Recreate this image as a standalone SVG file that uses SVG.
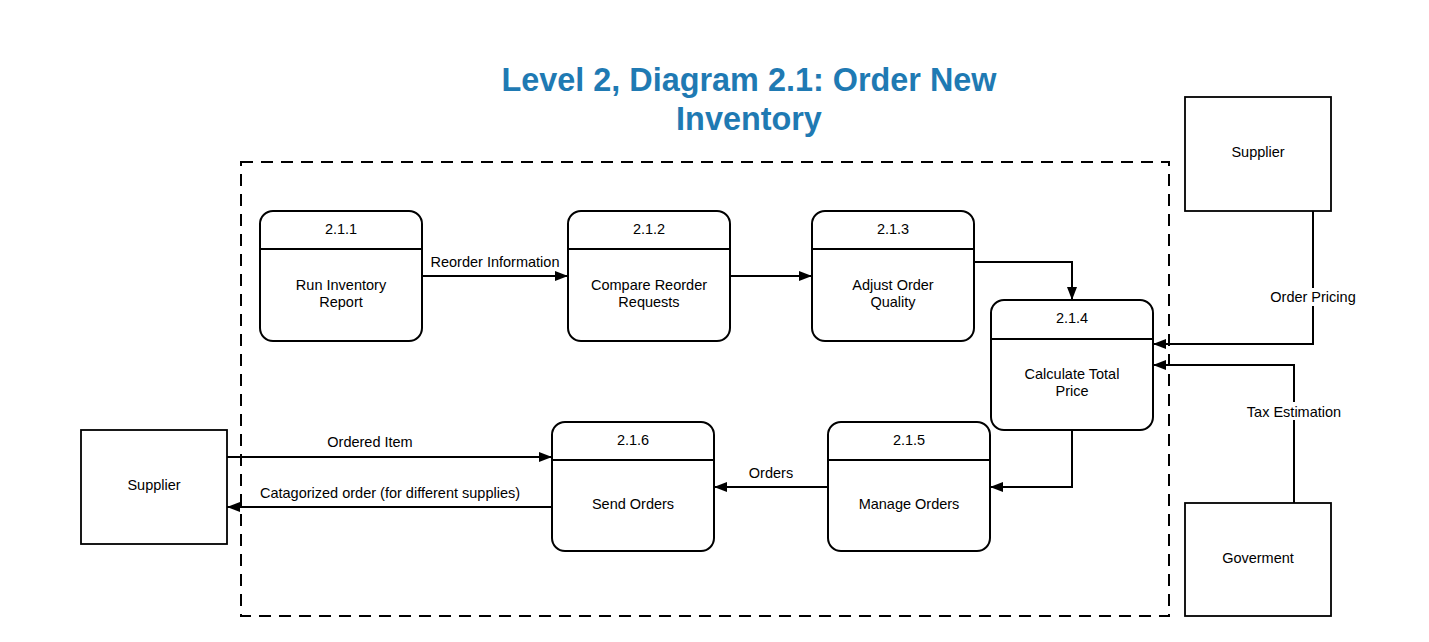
<svg xmlns="http://www.w3.org/2000/svg" width="1429" height="642" viewBox="0 0 1429 642">
<defs>
<marker id="ah" viewBox="0 0 13 10" refX="13" refY="5" markerWidth="13" markerHeight="10" markerUnits="userSpaceOnUse" orient="auto">
<path d="M0,0 L13,5 L0,10 Z" fill="#000"/>
</marker>
<style>
.t{font-family:"Liberation Sans",Arial,sans-serif;font-size:14.5px;fill:#000;text-anchor:middle}
.title{font-family:"Liberation Sans",Arial,sans-serif;font-size:32.4px;font-weight:bold;fill:#1f7ab3;text-anchor:middle}
.proc{fill:#fff;stroke:#000;stroke-width:2}
.ent{fill:#fff;stroke:#000;stroke-width:1.8}
.div{stroke:#000;stroke-width:2}
.c{fill:none;stroke:#000;stroke-width:2;marker-end:url(#ah)}
.lbl{fill:#fff}
</style>
</defs>
<rect width="1429" height="642" fill="#fff"/>
<text class="title" x="749" y="91">Level 2, Diagram 2.1: Order New</text>
<text class="title" x="749" y="130">Inventory</text>
<rect x="241" y="162" width="928" height="454" fill="none" stroke="#000" stroke-width="2" stroke-dasharray="12,8"/>

<g id="connectors">
<path class="c" d="M422,276 H568"/>
<path class="c" d="M730,276 H812"/>
<path class="c" d="M974,262 H1072 V300"/>
<path class="c" d="M1313,211 V344 H1153"/>
<path class="c" d="M1294,503 V365 H1153"/>
<path class="c" d="M1072,430 V487 H990"/>
<path class="c" d="M828,487 H714"/>
<path class="c" d="M227,457 H552"/>
<path class="c" d="M552,507 H227"/>
<text class="t" x="495" y="267">Reorder Information</text>
<rect class="lbl" x="1266" y="288" width="94" height="18"/>
<text class="t" x="1313" y="302">Order Pricing</text>
<rect class="lbl" x="1244" y="402" width="100" height="18"/>
<text class="t" x="1294" y="417">Tax Estimation</text>
<text class="t" x="771" y="478">Orders</text>
<text class="t" x="370" y="447">Ordered Item</text>
<text class="t" x="390" y="498">Catagorized order (for different supplies)</text>
</g>

<g id="p211">
<rect class="proc" x="260" y="211" width="162" height="130" rx="13"/>
<line class="div" x1="260" y1="249" x2="422" y2="249"/>
<text class="t" x="341" y="234">2.1.1</text>
<text class="t" x="341" y="290">Run Inventory</text>
<text class="t" x="341" y="307">Report</text>
</g>
<g id="p212">
<rect class="proc" x="568" y="211" width="162" height="130" rx="13"/>
<line class="div" x1="568" y1="249" x2="730" y2="249"/>
<text class="t" x="649" y="234">2.1.2</text>
<text class="t" x="649" y="290">Compare Reorder</text>
<text class="t" x="649" y="307">Requests</text>
</g>
<g id="p213">
<rect class="proc" x="812" y="211" width="162" height="130" rx="13"/>
<line class="div" x1="812" y1="249" x2="974" y2="249"/>
<text class="t" x="893" y="234">2.1.3</text>
<text class="t" x="893" y="290">Adjust Order</text>
<text class="t" x="893" y="307">Quality</text>
</g>
<g id="p214">
<rect class="proc" x="991" y="300" width="162" height="130" rx="13"/>
<line class="div" x1="991" y1="339" x2="1153" y2="339"/>
<text class="t" x="1072" y="323">2.1.4</text>
<text class="t" x="1072" y="379">Calculate Total</text>
<text class="t" x="1072" y="396">Price</text>
</g>
<g id="p215">
<rect class="proc" x="828" y="422" width="162" height="129" rx="13"/>
<line class="div" x1="828" y1="460" x2="990" y2="460"/>
<text class="t" x="909" y="445">2.1.5</text>
<text class="t" x="909" y="509">Manage Orders</text>
</g>
<g id="p216">
<rect class="proc" x="552" y="422" width="162" height="129" rx="13"/>
<line class="div" x1="552" y1="460" x2="714" y2="460"/>
<text class="t" x="633" y="445">2.1.6</text>
<text class="t" x="633" y="509">Send Orders</text>
</g>
<g id="supplierLeft">
<rect class="ent" x="81" y="430" width="146" height="114"/>
<text class="t" x="154" y="490">Supplier</text>
</g>
<g id="supplierRight">
<rect class="ent" x="1185" y="97" width="146" height="114"/>
<text class="t" x="1258" y="157">Supplier</text>
</g>
<g id="government">
<rect class="ent" x="1185" y="503" width="146" height="113"/>
<text class="t" x="1258" y="563">Goverment</text>
</g>
</svg>
